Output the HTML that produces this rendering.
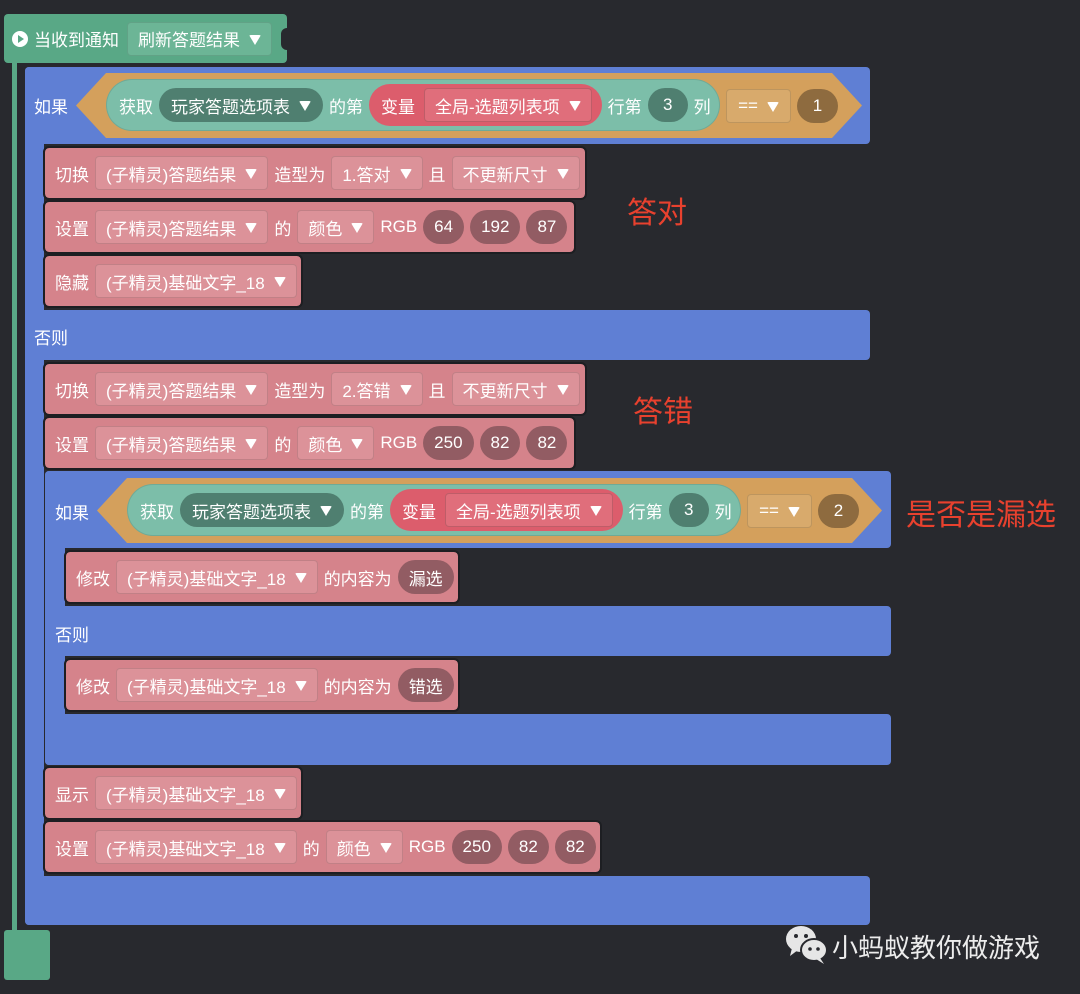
<!DOCTYPE html>
<html><head><meta charset="utf-8"><style>
*{box-sizing:border-box;margin:0;padding:0}
body{width:1080px;height:994px;background:#28292e;position:relative;overflow:hidden;font-family:"Liberation Sans","Noto Sans CJK SC",sans-serif;font-size:17px;color:#fff}
.a{position:absolute}
.blue{position:absolute;background:#5f7fd4;border-radius:4px}
.b{position:absolute;display:flex;align-items:center;padding-left:10px;gap:6px;background:#d5838b;border-radius:4px;height:50px;white-space:nowrap;outline:2px solid #1d1e22}
.f{height:34px;display:flex;align-items:center;padding:0 10px;background:#dc9299;border:1px solid rgba(0,0,0,.12);border-radius:4px;gap:9px}
.p{height:34px;display:flex;align-items:center;justify-content:center;padding:0 11px;border-radius:17px;background:#925c63;min-width:40px}
.t{width:0;height:0;border-left:6px solid transparent;border-right:6px solid transparent;border-top:10px solid #fff;border-radius:2px;margin-top:2px}
.hex{position:absolute;background:#d4a05c}
.teal{position:absolute;background:#7cbea9;border-radius:26px;height:52px;display:flex;align-items:center;padding-left:12px;gap:6px;border:1px solid rgba(0,0,0,.1);white-space:nowrap}
.dt{background:#4f7f70;border-radius:17px;height:34px;display:flex;align-items:center;padding:0 12px;gap:9px}
.red{background:#dc5d6c;border-radius:21px;height:42px;display:flex;align-items:center;padding:0 10px 0 12px;gap:9px}
.rf{background:#e06e7b;border:1px solid rgba(0,0,0,.15);border-radius:4px;height:34px;display:flex;align-items:center;padding:0 10px;gap:9px}
.lbl{position:absolute;color:#e8412e;font-size:30px}
</style></head><body>
<div class="a" style="left:12px;top:60px;width:5px;height:875px;background:#59a886"></div>
<div class="a" style="left:4px;top:930px;width:46px;height:50px;background:#59a886;border-radius:3px"></div>
<div class="a" style="left:4px;top:14px;width:283px;height:49px;background:#59a886;border-radius:4px;display:flex;align-items:center;padding-left:8px;gap:6px">
<div style="width:16px;height:16px;border-radius:50%;background:#fff;position:relative"><div style="position:absolute;left:6px;top:4px;border-left:6px solid #59a886;border-top:4px solid transparent;border-bottom:4px solid transparent"></div></div>
<span>当收到通知</span>
<div class="f" style="background:#6cb596;border-color:rgba(0,0,0,.1);margin-left:2px">刷新答题结果<div class="t"></div></div>
</div>
<div class="a" style="left:281px;top:28px;width:8px;height:22px;background:#28292e;border-radius:6px 0 0 6px"></div>

<div class="blue" style="left:25px;top:67px;width:845px;height:77px"></div>
<div class="blue" style="left:25px;top:67px;width:19px;height:858px;border-radius:4px 0 0 4px"></div>
<div class="blue" style="left:25px;top:310px;width:845px;height:50px"></div>
<div class="blue" style="left:25px;top:876px;width:845px;height:49px"></div>
<div class="a" style="left:34px;top:93px">如果</div>
<div class="a" style="left:34px;top:324px">否则</div>

<div class="hex" style="left:76px;top:73px;width:786px;height:65px;clip-path:polygon(0 50%,30px 0,calc(100% - 30px) 0,100% 50%,calc(100% - 30px) 100%,30px 100%)"></div>
<div class="teal" style="left:106px;top:79px;width:614px">获取<div class="dt">玩家答题选项表<div class="t"></div></div>的第<div class="red">变量<div class="rf">全局-选题列表项<div class="t"></div></div></div>行第<div class="dt" style="width:40px;justify-content:center;padding:0">3</div>列</div>
<div class="a f" style="left:726px;top:89px;width:65px;background:#d8aa6c;justify-content:center">==<div class="t"></div></div>
<div class="a p" style="left:797px;top:89px;width:41px;background:#8e6b3f">1</div>

<div class="b" style="left:45px;top:148px;width:540px">切换<div class="f">(子精灵)答题结果<div class="t"></div></div>造型为<div class="f">1.答对<div class="t"></div></div>且<div class="f">不更新尺寸<div class="t"></div></div></div>
<div class="b" style="left:45px;top:202px;width:529px">设置<div class="f">(子精灵)答题结果<div class="t"></div></div>的<div class="f">颜色<div class="t"></div></div>RGB<div class="p">64</div><div class="p">192</div><div class="p">87</div></div>
<div class="b" style="left:45px;top:256px;width:256px">隐藏<div class="f">(子精灵)基础文字_18<div class="t"></div></div></div>

<div class="b" style="left:45px;top:364px;width:540px">切换<div class="f">(子精灵)答题结果<div class="t"></div></div>造型为<div class="f">2.答错<div class="t"></div></div>且<div class="f">不更新尺寸<div class="t"></div></div></div>
<div class="b" style="left:45px;top:418px;width:529px">设置<div class="f">(子精灵)答题结果<div class="t"></div></div>的<div class="f">颜色<div class="t"></div></div>RGB<div class="p">250</div><div class="p">82</div><div class="p">82</div></div>

<div class="blue" style="left:45px;top:471px;width:846px;height:77px"></div>
<div class="blue" style="left:45px;top:471px;width:20px;height:294px;border-radius:4px 0 0 4px"></div>
<div class="blue" style="left:45px;top:606px;width:846px;height:50px"></div>
<div class="blue" style="left:45px;top:714px;width:846px;height:51px"></div>
<div class="a" style="left:55px;top:499px">如果</div>
<div class="a" style="left:55px;top:621px">否则</div>
<div class="hex" style="left:97px;top:478px;width:785px;height:65px;clip-path:polygon(0 50%,30px 0,calc(100% - 30px) 0,100% 50%,calc(100% - 30px) 100%,30px 100%)"></div>
<div class="teal" style="left:127px;top:484px;width:614px">获取<div class="dt">玩家答题选项表<div class="t"></div></div>的第<div class="red">变量<div class="rf">全局-选题列表项<div class="t"></div></div></div>行第<div class="dt" style="width:40px;justify-content:center;padding:0">3</div>列</div>
<div class="a f" style="left:747px;top:494px;width:65px;background:#d8aa6c;justify-content:center">==<div class="t"></div></div>
<div class="a p" style="left:818px;top:494px;width:41px;background:#8e6b3f">2</div>

<div class="b" style="left:66px;top:552px;width:392px">修改<div class="f">(子精灵)基础文字_18<div class="t"></div></div>的内容为<div class="p">漏选</div></div>
<div class="b" style="left:66px;top:660px;width:392px">修改<div class="f">(子精灵)基础文字_18<div class="t"></div></div>的内容为<div class="p">错选</div></div>

<div class="b" style="left:45px;top:768px;width:256px">显示<div class="f">(子精灵)基础文字_18<div class="t"></div></div></div>
<div class="b" style="left:45px;top:822px;width:555px">设置<div class="f">(子精灵)基础文字_18<div class="t"></div></div>的<div class="f">颜色<div class="t"></div></div>RGB<div class="p">250</div><div class="p">82</div><div class="p">82</div></div>

<div class="lbl" style="left:627px;top:188px">答对</div>
<div class="lbl" style="left:633px;top:387px">答错</div>
<div class="lbl" style="left:906px;top:490px">是否是漏选</div>

<svg class="a" style="left:784px;top:924px" width="46" height="40" viewBox="0 0 46 40">
<ellipse cx="17" cy="15" rx="15" ry="13" fill="#e6e6e6"/><path d="M8 24 L6 32 L14 26Z" fill="#e6e6e6"/>
<circle cx="12" cy="12" r="2" fill="#28292e"/><circle cx="22" cy="12" r="2" fill="#28292e"/>
<ellipse cx="30" cy="26" rx="13" ry="11" stroke="#28292e" stroke-width="2" fill="#e6e6e6"/><path d="M36 34 L40 40 L32 35Z" fill="#e6e6e6"/>
<circle cx="26" cy="25" r="1.8" fill="#28292e"/><circle cx="34" cy="25" r="1.8" fill="#28292e"/>
</svg>
<div class="a" style="left:832px;top:928px;font-size:26px;color:#ececec">小蚂蚁教你做游戏</div>
</body></html>
